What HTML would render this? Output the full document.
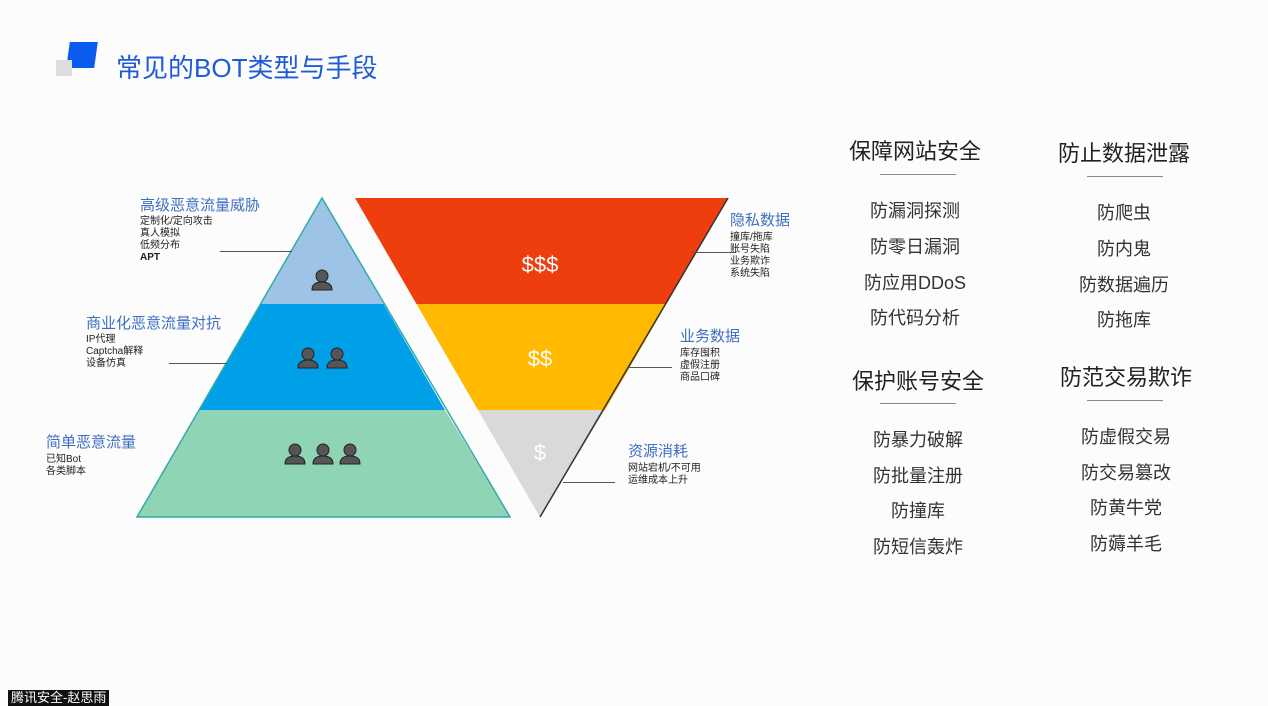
<!DOCTYPE html>
<html><head><meta charset="utf-8"><style>
body{margin:0;width:1268px;height:705px;background:#fcfcfc;overflow:hidden;position:relative;font-family:"Liberation Sans","Noto Sans CJK SC",sans-serif}
.t{position:absolute;white-space:nowrap}
.h{color:#3f6fc0;font-size:15px;line-height:18px}
.s{color:#222;font-size:10px;line-height:12px}
.r{position:absolute;font-size:22px;color:#222;text-align:center;width:160px}
.i{position:absolute;font-size:18px;color:#333;text-align:center;width:160px}
.ln{position:absolute;height:1px;background:#555}
</style></head><body>
<div style="position:absolute;left:68px;top:42px;width:28px;height:26px;background:#0a5cf0;transform:skewX(-8deg)"></div>
<div style="position:absolute;left:56px;top:60px;width:16px;height:16px;background:#ddd"></div>
<div class="t" style="left:116px;top:48px;font-size:26px;color:#1e5bd8">常见的BOT类型与手段</div>
<svg width="1268" height="705" style="position:absolute;left:0;top:0">
<defs><g id="p"><circle cx="0" cy="-6" r="6"/><path d="M-10,8 Q-10,0 0,0 Q10,0 10,8 Z"/></g></defs>
<polygon points="322,198 383.5,304 260.5,304" fill="#9dc3e6"/>
<polygon points="260.5,304 383.5,304 445,410 199,410" fill="#00a0e9"/>
<polygon points="199,410 445,410 510,517 137,517" fill="#8fd4b5"/>
<polygon points="322,198 510,517 137,517" fill="none" stroke="#3aa" stroke-width="1.5"/>
<polygon points="355,198 728,198 666.5,304 416.5,304" fill="#ee3e0e"/>
<polygon points="416.5,304 666.5,304 605,410 478,410" fill="#ffb900"/>
<polygon points="478,410 605,410 540,517" fill="#d9d9d9"/>
<line x1="728" y1="198" x2="540" y2="517" stroke="#333" stroke-width="1.5"/>
<g fill="#555" stroke="#222"><use href="#p" x="322" y="282"/><use href="#p" x="308" y="360"/><use href="#p" x="337" y="360"/><use href="#p" x="295" y="456"/><use href="#p" x="323" y="456"/><use href="#p" x="350" y="456"/></g>
<text x="540" y="272" fill="#fff" font-size="22" text-anchor="middle" font-family="Liberation Sans">$$$</text>
<text x="540" y="366" fill="#fff" font-size="22" text-anchor="middle" font-family="Liberation Sans">$$</text>
<text x="540" y="460" fill="#fff" font-size="22" text-anchor="middle" font-family="Liberation Sans">$</text>
</svg>
<div class="ln" style="left:220px;top:251px;width:72px"></div>
<div class="ln" style="left:169px;top:363px;width:58px"></div>
<div class="ln" style="left:692px;top:252px;width:44px"></div>
<div class="ln" style="left:628px;top:367px;width:44px"></div>
<div class="ln" style="left:563px;top:482px;width:52px"></div>
<div class="t h" style="left:140px;top:197px">高级恶意流量威胁</div>
<div class="t s" style="left:140px;top:216px">定制化/定向攻击<br>真人模拟<br>低频分布<br><b>APT</b></div>
<div class="t h" style="left:86px;top:315px">商业化恶意流量对抗</div>
<div class="t s" style="left:86px;top:334px">IP代理<br>Captcha解释<br>设备仿真</div>
<div class="t h" style="left:46px;top:434px">简单恶意流量</div>
<div class="t s" style="left:46px;top:454px">已知Bot<br>各类脚本</div>
<div class="t h" style="left:730px;top:212px">隐私数据</div>
<div class="t s" style="left:730px;top:232px">撞库/拖库<br>账号失陷<br>业务欺诈<br>系统失陷</div>
<div class="t h" style="left:680px;top:328px">业务数据</div>
<div class="t s" style="left:680px;top:348px">库存囤积<br>虚假注册<br>商品口碑</div>
<div class="t h" style="left:628px;top:443px">资源消耗</div>
<div class="t s" style="left:628px;top:463px">网站宕机/不可用<br>运维成本上升</div>
<div class="r" style="left:835px;top:134px">保障网站安全</div>
<div class="r" style="left:1044px;top:136px">防止数据泄露</div>
<div class="ln" style="left:880px;top:174px;width:76px;background:#888"></div>
<div class="ln" style="left:1087px;top:176px;width:76px;background:#888"></div>
<div class="i" style="left:835px;top:197px">防漏洞探测</div>
<div class="i" style="left:835px;top:233px">防零日漏洞</div>
<div class="i" style="left:835px;top:269px">防应用DDoS</div>
<div class="i" style="left:835px;top:304px">防代码分析</div>
<div class="i" style="left:1044px;top:199px">防爬虫</div>
<div class="i" style="left:1044px;top:235px">防内鬼</div>
<div class="i" style="left:1044px;top:271px">防数据遍历</div>
<div class="i" style="left:1044px;top:306px">防拖库</div>
<div class="r" style="left:838px;top:364px">保护账号安全</div>
<div class="r" style="left:1046px;top:360px">防范交易欺诈</div>
<div class="ln" style="left:880px;top:403px;width:76px;background:#888"></div>
<div class="ln" style="left:1087px;top:400px;width:76px;background:#888"></div>
<div class="i" style="left:838px;top:426px">防暴力破解</div>
<div class="i" style="left:838px;top:462px">防批量注册</div>
<div class="i" style="left:838px;top:497px">防撞库</div>
<div class="i" style="left:838px;top:533px">防短信轰炸</div>
<div class="i" style="left:1046px;top:423px">防虚假交易</div>
<div class="i" style="left:1046px;top:459px">防交易篡改</div>
<div class="i" style="left:1046px;top:494px">防黄牛党</div>
<div class="i" style="left:1046px;top:530px">防薅羊毛</div>
<div class="t" style="left:8px;top:690px;background:#111;color:#fff;font-size:13px;padding:0 3px;line-height:16px">腾讯安全-赵思雨</div>
</body></html>
